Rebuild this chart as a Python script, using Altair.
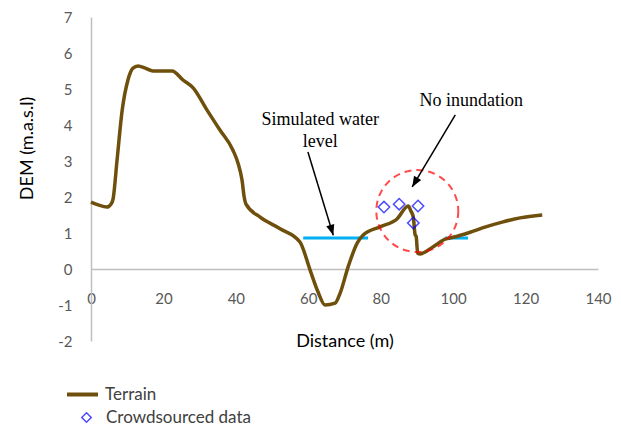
import altair as alt
import pandas as pd

# Terrain profile (distance m, DEM m.a.s.l)
terrain_x = [0, 2, 4.4, 5.5, 6.1, 7.2, 8.6, 10.2, 11.6, 13.0, 15.0, 17.1, 22.4, 25.4, 28.2,
             32.0, 35.6, 39.2, 40.6, 41.7, 42.3, 42.8, 46.7, 52.2, 57.7, 60.5, 62.7, 64.6,
             67.4, 68.8, 71.0, 73.5, 75.1, 79.8, 84.5, 87.6, 88.3, 89.0, 89.5, 89.8, 90.2,
             90.9, 94.5, 97.8, 100.0, 104.7, 109.0, 113.8, 118.5, 124.6]
terrain_y = [1.86, 1.78, 1.72, 1.80, 1.95, 3.03, 4.40, 5.25, 5.58, 5.64, 5.58, 5.50, 5.50, 5.25, 5.03,
             4.42, 3.86, 3.30, 2.94, 2.47, 2.00, 1.80, 1.44, 1.12, 0.75, -0.03, -0.64, -1.00,
             -0.95, -0.67, 0.06, 0.72, 0.94, 1.17, 1.39, 1.75, 1.62, 1.44, 0.95, 0.90, 0.44,
             0.42, 0.62, 0.83, 0.88, 1.02, 1.17, 1.31, 1.42, 1.50]

# Crowdsourced observations
crowd_x = [80.9, 85.1, 90.3, 89.0]
crowd_y = [1.72, 1.80, 1.75, 1.28]

# Simulated water level segments
water_x1 = [58.6, 97.8]
water_x2 = [76.5, 104.1]
water_y = [0.86, 0.86]

# Annotations
text_labels = ["Simulated water", "level", "No inundation"]
text_x = [63.3, 63.3, 105.0]
text_y = [4.14, 3.53, 4.67]

arrow_x1 = [59.9, 100.6]
arrow_y1 = [3.25, 4.28]
arrow_x2 = [66.9, 88.7]
arrow_y2 = [0.94, 2.28]
arrow_angle = [163, 211]

circle_x = [90.1]
circle_y = [1.61]

terrain = pd.DataFrame({"x": terrain_x, "y": terrain_y, "s": "Terrain"})
crowd = pd.DataFrame({"x": crowd_x, "y": crowd_y, "s": "Crowdsourced data"})
water = pd.DataFrame({"x": water_x1, "x2": water_x2, "y": water_y})
texts = pd.DataFrame({"x": text_x, "y": text_y, "t": text_labels})
arrows = pd.DataFrame({"x": arrow_x1, "y": arrow_y1, "x2": arrow_x2, "y2": arrow_y2, "a": arrow_angle})
circ = pd.DataFrame({"x": circle_x, "y": circle_y})

FONT = "Lato"
xs = alt.Scale(domain=[0, 140], nice=False, zero=False)
ys = alt.Scale(domain=[-2, 7], nice=False, zero=False)

x_axis = alt.Axis(values=list(range(0, 141, 20)), offset=-72, ticks=False, grid=False,
                  domainColor="#BFBFBF", domainWidth=1.5, labelPadding=22,
                  labelFlush=False, labelOverlap=False,
                  labelFont=FONT, labelFontSize=15, labelColor="#595959",
                  title="Distance (m)", titleFont=FONT, titleFontSize=18, titleFontWeight="normal",
                  titleColor="#000000", titleY=72, titleBaseline="middle")
y_axis = alt.Axis(values=list(range(-2, 8)), ticks=False, grid=False,
                  domainColor="#BFBFBF", domainWidth=1.5, labelPadding=19,
                  labelFlush=False, labelOverlap=False, labelExpr="'' + datum.value",
                  labelFont=FONT, labelFontSize=15, labelColor="#595959",
                  title="DEM (m.a.s.l)", titleFont=FONT, titleFontSize=18, titleFontWeight="normal",
                  titleColor="#000000", titleX=-64, titleY=131, titleAngle=270,
                  titleAlign="center", titleBaseline="middle")


def X(f="x:Q"):
    return alt.X(f, scale=xs, axis=x_axis)


def Y(f="y:Q"):
    return alt.Y(f, scale=ys, axis=y_axis)


line = alt.Chart(terrain).mark_line(strokeWidth=3.5, interpolate="monotone").encode(
    x=X(), y=Y(),
    color=alt.Color("s:N", scale=alt.Scale(domain=["Terrain"], range=["#6E4F0C"]),
                    legend=alt.Legend(orient="none", legendX=-26, legendY=360, title=None,
                                      symbolType="stroke", symbolSize=961, symbolStrokeWidth=4,
                                      labelFont=FONT, labelFontSize=17, labelColor="#404040",
                                      labelOffset=5)),
)

pts = alt.Chart(crowd).mark_point(size=130, strokeWidth=1.5, color="#0000FF", filled=False).encode(
    x=X(), y=Y(),
    shape=alt.Shape("s:N", scale=alt.Scale(domain=["Crowdsourced data"], range=["diamond"]),
                    legend=alt.Legend(orient="none", legendX=-13, legendY=392, title=None,
                                      symbolSize=90, symbolStrokeWidth=1.5,
                                      labelFont=FONT, labelFontSize=17, labelColor="#404040",
                                      labelOffset=11)),
)

wl = alt.Chart(water).mark_rule(color="#00B0F0", strokeWidth=3).encode(
    x=X(), x2="x2:Q", y=Y()
)

circle = alt.Chart(circ).mark_point(shape="circle", size=6724, stroke="#FF0000", strokeWidth=2,
                                    strokeDash=[7, 5], filled=False).encode(
    x=X(), y=Y()
)

shafts = alt.Chart(arrows).mark_rule(color="black", strokeWidth=1.5).encode(
    x=X(), y=Y(), x2="x2:Q", y2="y2:Q"
)
heads = alt.Chart(arrows).mark_point(shape="M0,0L0.8,2L-0.8,2Z", size=110, filled=True,
                                     color="black", opacity=1).encode(
    x=X("x2:Q"), y=Y("y2:Q"), angle=alt.Angle("a:Q", scale=None)
)

txt = alt.Chart(texts).mark_text(font="Liberation Serif", fontSize=18, color="black",
                                 align="center", baseline="middle").encode(
    x=X(), y=Y(), text="t:N"
)

chart = alt.layer(wl, line, circle, pts, shafts, heads, txt).properties(
    width=507, height=324,
    padding={"left": 83, "top": 9, "right": 15, "bottom": 87},
    autosize=alt.AutoSizeParams(type="none"),
).configure_view(stroke=None).resolve_scale(color="independent", shape="independent")

chart.save("out.html", embed_options={"renderer": "svg", "actions": False})
